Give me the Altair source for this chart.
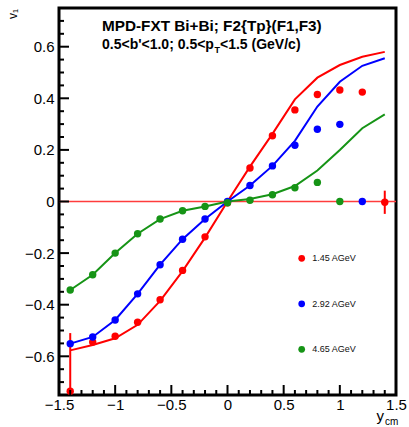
import altair as alt
import pandas as pd

# ---------------- data ----------------
energies = ["1.45 AGeV", "2.92 AGeV", "4.65 AGeV"]
colors = ["#ff0000", "#0000ff", "#169416"]

x_all = [-1.4, -1.2, -1.0, -0.8, -0.6, -0.4, -0.2, 0.0, 0.2, 0.4, 0.6, 0.8, 1.0, 1.2, 1.4]

# measured points (dots)
red_pts = [-0.735, -0.545, -0.522, -0.468, -0.381, -0.267, -0.137, -0.005,
           0.130, 0.255, 0.355, 0.415, 0.432, 0.424, -0.003]
red_err = [0.225, 0.0, 0.0, 0.0, 0.0, 0.0, 0.0, 0.0,
           0.0, 0.0, 0.0, 0.0, 0.0, 0.0, 0.045]
blue_pts = [-0.551, -0.525, -0.459, -0.358, -0.245, -0.146, -0.068, 0.0,
            0.062, 0.138, 0.218, 0.280, 0.299, 0.0]
green_pts = [-0.343, -0.284, -0.200, -0.125, -0.068, -0.036, -0.019, -0.005,
             0.005, 0.026, 0.053, 0.074, 0.0]

# model curves (lines)
red_line = [-0.577, -0.556, -0.530, -0.478, -0.385, -0.270, -0.140, 0.0,
            0.135, 0.262, 0.396, 0.480, 0.529, 0.561, 0.580]
blue_line = [-0.551, -0.525, -0.459, -0.358, -0.245, -0.146, -0.068, 0.0,
             0.062, 0.138, 0.235, 0.368, 0.464, 0.526, 0.555]
green_line = [-0.343, -0.284, -0.200, -0.125, -0.068, -0.036, -0.019, 0.0,
              0.010, 0.028, 0.060, 0.120, 0.200, 0.284, 0.338]

# axis ticks
x_major = [-1.5, -1.0, -0.5, 0.0, 0.5, 1.0, 1.5]
x_minor = [-1.4, -1.3, -1.2, -1.1, -0.9, -0.8, -0.7, -0.6, -0.4, -0.3, -0.2, -0.1,
           0.1, 0.2, 0.3, 0.4, 0.6, 0.7, 0.8, 0.9, 1.1, 1.2, 1.3, 1.4]
y_major = [-0.6, -0.4, -0.2, 0.0, 0.2, 0.4, 0.6]
y_minor = [-0.7, -0.65, -0.55, -0.5, -0.45, -0.35, -0.3, -0.25, -0.15, -0.1, -0.05,
           0.05, 0.1, 0.15, 0.25, 0.3, 0.35, 0.45, 0.5, 0.55, 0.65, 0.7]

# ---------------- tables ----------------
pts_rows = []
for e, ys in zip(energies, [red_pts, blue_pts, green_pts]):
    for xv, yv in zip(x_all, ys):
        pts_rows.append({"x": xv, "y": yv, "energy": e})
pts = pd.DataFrame(pts_rows)

err = pd.DataFrame({"x": x_all, "lo": [v - e for v, e in zip(red_pts, red_err)],
                    "hi": [v + e for v, e in zip(red_pts, red_err)]})

line_rows = []
for e, ys in zip(energies, [red_line, blue_line, green_line]):
    for xv, yv in zip(x_all, ys):
        line_rows.append({"x": xv, "y": yv, "energy": e})
lines = pd.DataFrame(line_rows)

W, H = 337, 387
xscale = alt.Scale(domain=[-1.5, 1.5], nice=False, zero=False)
yscale = alt.Scale(domain=[-0.75, 0.75], nice=False, zero=False)
cscale = alt.Scale(domain=energies, range=colors)
FONT = "Liberation Sans"

xaxis = alt.Axis(values=x_major, format="~g", ticks=False, domain=False, grid=False,
                 title=None, labelFontSize=15, labelFont=FONT, labelColor="black",
                 labelPadding=2, labelFlush=False, labelOverlap=False)
yaxis = alt.Axis(values=y_major, format="~g", ticks=False, domain=False, grid=False,
                 title=None, labelFontSize=15, labelFont=FONT, labelColor="black",
                 labelPadding=5, labelOverlap=False)

X = alt.X("x:Q", scale=xscale, axis=xaxis)
Y = alt.Y("y:Q", scale=yscale, axis=yaxis)

zero_line = alt.Chart(pd.DataFrame({"y": [0.0]})).mark_rule(
    color="#ff3c3c", strokeWidth=1.3).encode(y=Y, x=alt.value(0), x2=alt.value(W))

line_layer = alt.Chart(lines).mark_line(strokeWidth=2, clip=True).encode(
    x=X, y=Y, color=alt.Color("energy:N", scale=cscale, legend=None),
    detail="energy:N")

err_layer = alt.Chart(err).mark_rule(color="#ff0000", strokeWidth=2, clip=True).encode(
    x=X, y=alt.Y("lo:Q", scale=yscale, axis=yaxis), y2="hi:Q")

pt_layer = alt.Chart(pts).mark_circle(size=55, opacity=1).encode(
    x=X, y=Y, color=alt.Color("energy:N", scale=cscale, legend=None))

yt_major = alt.Chart(pd.DataFrame({"y": y_major})).mark_rule(
    color="black", strokeWidth=2).encode(y=Y, x=alt.value(0), x2=alt.value(10))
yt_minor = alt.Chart(pd.DataFrame({"y": y_minor})).mark_rule(
    color="black", strokeWidth=2).encode(y=Y, x=alt.value(0), x2=alt.value(5))
xt_major = alt.Chart(pd.DataFrame({"x": x_major})).mark_rule(
    color="black", strokeWidth=2).encode(x=X, y=alt.value(H), y2=alt.value(H - 10))
xt_minor = alt.Chart(pd.DataFrame({"x": x_minor})).mark_rule(
    color="black", strokeWidth=2).encode(x=X, y=alt.value(H), y2=alt.value(H - 5))

one = alt.Data(values=[{}])


def txt(s, x, y, size, bold=False, angle=0, align="left", baseline="alphabetic",
        color="black"):
    kw = dict(fontSize=size, font=FONT, align=align, baseline=baseline, color=color)
    if bold:
        kw["fontWeight"] = "bold"
    if angle:
        kw["angle"] = angle
    return alt.Chart(one).mark_text(**kw).encode(
        x=alt.value(x), y=alt.value(y), text=alt.value(s))


# legend (manual, ROOT-style)
legend_layers = []
for i, (e, c) in enumerate(zip(energies, colors)):
    ly = 250.3 + 45.5 * i
    legend_layers.append(
        alt.Chart(one).mark_circle(size=45, opacity=1, color=c).encode(
            x=alt.value(242.7), y=alt.value(ly)))
    legend_layers.append(txt(e, 253.3, ly, 9, baseline="middle", color="#111"))

t1 = txt("MPD-FXT Bi+Bi; F2{Tp}(F1,F3)", 43, 22.5, 15.3, bold=True)
t2a = txt("0.5<b'<1.0; 0.5<p", 43, 41, 14, bold=True)
t2b = txt("T", 155.5, 45, 9, bold=True)
t2c = txt("<1.5 (GeV/c)", 161, 41, 14, bold=True)
vt = txt("v₁", -46, 6, 12, angle=270, align="center", baseline="middle")
yt1 = txt("y", 317.5, 413, 15)
yt2 = txt("cm", 326, 417, 10)

chart = alt.layer(
    zero_line, line_layer, err_layer, pt_layer,
    yt_major, yt_minor, xt_major, xt_minor,
    *legend_layers,
    t1, t2a, t2b, t2c, vt, yt1, yt2,
).properties(
    width=W, height=H,
    padding={"left": 59, "top": 8, "right": 13, "bottom": 32},
    autosize=alt.AutoSizeParams(type="none"),
    background="white",
).configure_view(stroke="black", strokeWidth=3)

chart.save("out.html", embed_options={"renderer": "svg", "actions": False})
